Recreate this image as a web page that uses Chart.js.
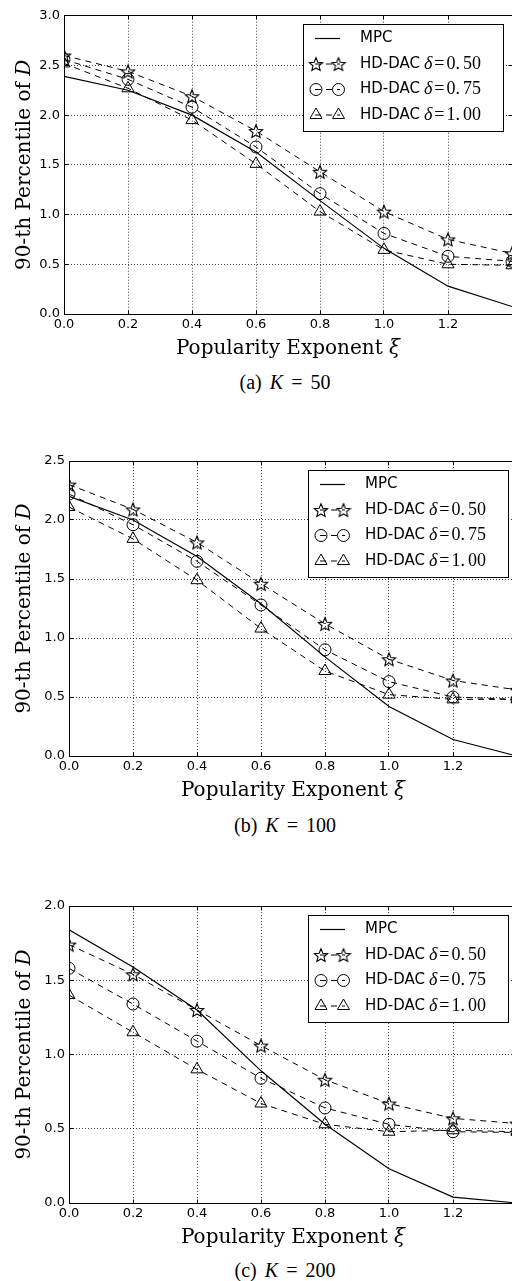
<!DOCTYPE html>
<html>
<head>
<meta charset="utf-8">
<script src="https://cdn.jsdelivr.net/npm/chart.js"></script>
<style>
  body { margin: 0; background: #fff; width: 512px; height: 1281px; overflow: hidden; position: relative; }
  canvas { position: absolute; left: 0; }
  .cap { position: absolute; font-family: "Liberation Serif", serif; font-size: 20px; word-spacing: 3px;
         transform: translate(-50%, -50%); white-space: nowrap; color: #000; }
</style>
</head>
<body>
<script>
// popularity exponent values on the x axis
const xi = [0, 0.2, 0.4, 0.6, 0.8, 1.0, 1.2, 1.4];
const seriesNames = ['MPC', 'HD-DAC', 'HD-DAC', 'HD-DAC'];
const deltaLabels = [null, '0.50', '0.75', '1.00'];
const captions = ['(a)', '(b)', '(c)'];
const kValues = ['50', '100', '200'];
const yMaxes = [3.0, 2.5, 2.0];
const xTitle = ['Popularity Exponent ', 'ξ'];
const yTitle = ['90-th Percentile of ', 'D'];

// K = 50
const mpc50 = [2.39, 2.25, 2.00, 1.63, 1.14, 0.66, 0.28, 0.075];
const hd50_050 = [2.60, 2.44, 2.19, 1.84, 1.43, 1.03, 0.75, 0.61];
const hd50_075 = [2.56, 2.36, 2.08, 1.68, 1.21, 0.81, 0.58, 0.53];
const hd50_100 = [2.52, 2.27, 1.95, 1.51, 1.03, 0.645, 0.50, 0.49];

// K = 100
const mpc100 = [2.20, 2.00, 1.69, 1.29, 0.84, 0.42, 0.14, 0.0];
const hd100_050 = [2.30, 2.09, 1.81, 1.46, 1.12, 0.82, 0.64, 0.56];
const hd100_075 = [2.22, 1.96, 1.65, 1.28, 0.90, 0.63, 0.50, 0.48];
const hd100_100 = [2.11, 1.84, 1.49, 1.08, 0.72, 0.52, 0.48, 0.48];

// K = 200
const mpc200 = [1.84, 1.59, 1.30, 0.89, 0.53, 0.23, 0.04, 0.0];
const hd200_050 = [1.74, 1.54, 1.30, 1.06, 0.83, 0.67, 0.57, 0.535];
const hd200_075 = [1.58, 1.34, 1.09, 0.84, 0.64, 0.53, 0.48, 0.475];
const hd200_100 = [1.40, 1.15, 0.90, 0.67, 0.53, 0.48, 0.49, 0.48];

const panelSeries = [
  [mpc50, hd50_050, hd50_075, hd50_100],
  [mpc100, hd100_050, hd100_075, hd100_100],
  [mpc200, hd200_050, hd200_075, hd200_100]
];

// page layout of each panel (pixels)
const panels = [
  { canvasTop: 0,   plotTop: 15.7, plotBottom: 313.5, plotLeft: 64, plotRight: 512, capY: 382 },
  { canvasTop: 440, plotTop: 461,  plotBottom: 756,   plotLeft: 69, plotRight: 517, capY: 824.5 },
  { canvasTop: 885, plotTop: 906,  plotBottom: 1202.5, plotLeft: 69, plotRight: 517, capY: 1270 }
];
const CANVAS_W = 540;

// hollow five-point star marker
function makeStar(r) {
  const c = document.createElement('canvas');
  const s = 16;
  c.width = c.height = s;
  const g = c.getContext('2d');
  g.beginPath();
  for (let i = 0; i < 10; i++) {
    const rr = i % 2 ? r * 0.45 : r;
    const a = -Math.PI / 2 + i * Math.PI / 5;
    g.lineTo(s / 2 + rr * Math.cos(a), s / 2 + rr * Math.sin(a) + 0.8);
  }
  g.closePath();
  g.lineWidth = 1.1;
  g.strokeStyle = '#000';
  g.stroke();
  return c;
}
const starImg = makeStar(7);

const seriesStyles = [
  { borderDash: [], borderWidth: 1.2, pointStyle: 'circle', pointRadius: 0 },
  { borderDash: [6, 5], borderWidth: 1, pointStyle: starImg, pointRadius: 7 },
  { borderDash: [6, 5], borderWidth: 1, pointStyle: 'circle', pointRadius: 6 },
  { borderDash: [6, 5], borderWidth: 1, pointStyle: 'triangle', pointRadius: 7 }
];

const al = p => Math.round(p - 0.5) + 0.5;

function drawMarker(ctx, style, radius, x, y) {
  if (radius <= 0) return;
  ctx.save();
  ctx.strokeStyle = '#000';
  ctx.fillStyle = 'rgba(0,0,0,0)';
  ctx.lineWidth = 1;
  ctx.setLineDash([]);
  Chart.helpers.drawPoint(ctx, { pointStyle: style, radius: radius, rotation: 0, borderWidth: 1 }, x, y);
  ctx.restore();
}

// text made of an upright part and an italic math symbol, centred on (0, 0)
function drawMixed(ctx, parts) {
  const f1 = '20px "DejaVu Serif"', f2 = 'italic 20px "DejaVu Serif"';
  ctx.font = f1;
  const w1 = ctx.measureText(parts[0]).width;
  ctx.font = f2;
  const w2 = ctx.measureText(parts[1]).width;
  const x0 = -(w1 + w2) / 2;
  ctx.textAlign = 'left';
  ctx.textBaseline = 'middle';
  ctx.font = f1;
  ctx.fillText(parts[0], x0, 0);
  ctx.font = f2;
  ctx.fillText(parts[1], x0 + w1, 0);
}

const framePlugin = {
  id: 'frameAndLegend',
  afterDatasetsDraw(chart) {
    const { ctx, chartArea: a, scales } = chart;
    ctx.save();
    ctx.strokeStyle = '#000';
    ctx.lineWidth = 1;
    ctx.setLineDash([]);
    const L = al(a.left), R = al(a.right), T = al(a.top), B = al(a.bottom);
    ctx.strokeRect(L, T, R - L, B - T);
    // inward ticks on all four sides
    ctx.beginPath();
    scales.x.ticks.forEach(t => {
      const px = al(scales.x.getPixelForValue(t.value));
      ctx.moveTo(px, B); ctx.lineTo(px, B - 4);
      ctx.moveTo(px, T); ctx.lineTo(px, T + 4);
    });
    scales.y.ticks.forEach(t => {
      const py = al(scales.y.getPixelForValue(t.value));
      ctx.moveTo(L, py); ctx.lineTo(L + 4, py);
      ctx.moveTo(R, py); ctx.lineTo(R - 4, py);
    });
    ctx.stroke();

    // axis titles
    ctx.fillStyle = '#000';
    ctx.save();
    ctx.translate((a.left + a.right) / 2, a.bottom + 34.5);
    drawMixed(ctx, xTitle);
    ctx.restore();
    ctx.save();
    ctx.translate(25, (a.top + a.bottom) / 2);
    ctx.rotate(-Math.PI / 2);
    drawMixed(ctx, yTitle);
    ctx.restore();

    // legend box
    const w = 200, h = 107;
    const bx = Math.round(a.right - 9.5 - w), by = Math.round(a.top + 8.5);
    ctx.fillStyle = '#fff';
    ctx.fillRect(bx, by, w, h);
    ctx.strokeRect(bx + 0.5, by + 0.5, w, h);
    chart.data.datasets.forEach((ds, i) => {
      const y = by + 14.5 + i * 25.5;
      ctx.save();
      ctx.lineWidth = ds.borderWidth;
      ctx.setLineDash(ds.borderDash);
      ctx.beginPath();
      ctx.moveTo(bx + 12, y);
      ctx.lineTo(bx + 37, y);
      ctx.stroke();
      ctx.restore();
      drawMarker(ctx, ds.pointStyle, ds.pointRadius, bx + 13, y);
      drawMarker(ctx, ds.pointStyle, ds.pointRadius, bx + 35.5, y);
      let tx = bx + 57;
      ctx.fillStyle = '#000';
      ctx.textAlign = 'left';
      ctx.textBaseline = 'middle';
      ctx.font = '15px "DejaVu Sans"';
      ctx.fillText(seriesNames[i], tx, y);
      if (deltaLabels[i]) {
        tx += ctx.measureText(seriesNames[i]).width + 4;
        ctx.font = 'italic 18px "Liberation Serif"';
        ctx.fillText('δ', tx, y);
        tx += ctx.measureText('δ').width + 2;
        ctx.font = '18px "Liberation Serif"';
        ctx.fillText('=', tx, y);
        tx += ctx.measureText('=').width + 2;
        const parts = deltaLabels[i].split('.');
        ctx.fillText(parts[0] + '.', tx, y);
        tx += ctx.measureText(parts[0] + '.').width + 3;
        ctx.fillText(parts[1], tx, y);
      }
    });
    ctx.restore();
  }
};

panels.forEach((p, pi) => {
  const H = Math.round(p.plotBottom + 50 - p.canvasTop);
  const canvas = document.createElement('canvas');
  canvas.width = CANVAS_W;
  canvas.height = H;
  canvas.style.top = p.canvasTop + 'px';
  canvas.style.width = CANVAS_W + 'px';
  canvas.style.height = H + 'px';
  document.body.appendChild(canvas);

  const cap = document.createElement('div');
  cap.className = 'cap';
  cap.style.left = '285px';
  cap.style.top = p.capY + 'px';
  cap.innerHTML = captions[pi] + ' <i>K</i> = ' + kValues[pi];
  document.body.appendChild(cap);

  const datasets = panelSeries[pi].map((vals, si) => ({
    label: seriesNames[si] + (deltaLabels[si] ? ' δ = ' + deltaLabels[si] : ''),
    data: vals.map((v, k) => ({ x: xi[k], y: v })),
    borderColor: '#000',
    backgroundColor: 'rgba(0,0,0,0)',
    borderWidth: seriesStyles[si].borderWidth,
    borderDash: seriesStyles[si].borderDash,
    pointStyle: seriesStyles[si].pointStyle,
    pointRadius: seriesStyles[si].pointRadius,
    pointBorderColor: '#000',
    pointBackgroundColor: 'rgba(0,0,0,0)',
    pointBorderWidth: 1,
    tension: 0,
    fill: false
  }));

  new Chart(canvas.getContext('2d'), {
    type: 'line',
    data: { datasets },
    options: {
      responsive: false,
      animation: false,
      devicePixelRatio: 1,
      layout: { padding: { top: p.plotTop - p.canvasTop, right: CANVAS_W - p.plotRight, left: 0, bottom: 0 } },
      plugins: { legend: { display: false }, tooltip: { enabled: false } },
      scales: {
        x: {
          type: 'linear', min: 0, max: 1.4,
          afterFit: s => { s.height = 50; },
          grid: { color: 'rgba(0,0,0,0.75)', lineWidth: 1, drawTicks: false },
          border: { display: true, color: '#000', width: 1, dash: [1, 2] },
          ticks: {
            stepSize: 0.2, color: '#000', padding: 3, maxRotation: 0,
            font: { family: 'DejaVu Sans', size: 13 },
            callback: v => (v > 1.3 ? '' : v.toFixed(1))
          },
          title: { display: false }
        },
        y: {
          min: 0, max: yMaxes[pi],
          afterFit: s => { s.width = p.plotLeft; },
          grid: { color: 'rgba(0,0,0,0.75)', lineWidth: 1, drawTicks: false },
          border: { display: true, color: '#000', width: 1, dash: [1, 2] },
          ticks: {
            stepSize: 0.5, color: '#000', padding: 4,
            font: { family: 'DejaVu Sans', size: 13 },
            callback: v => v.toFixed(1)
          },
          title: { display: false }
        }
      }
    },
    plugins: [framePlugin]
  });
});
</script>
</body>
</html>
